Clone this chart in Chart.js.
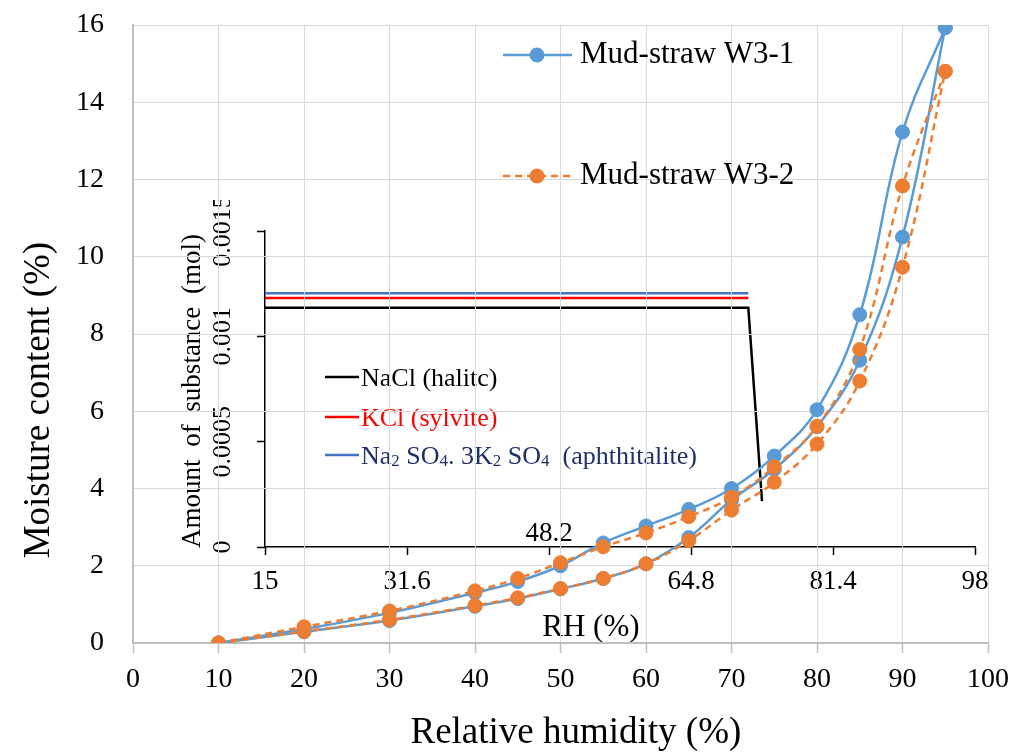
<!DOCTYPE html>
<html><head><meta charset="utf-8">
<script src="https://cdn.jsdelivr.net/npm/chart.js@4.4.1/dist/chart.umd.min.js"></script>
<style>
html,body{margin:0;padding:0;background:#fff;}
#wrap{position:relative;width:1026px;height:753px;overflow:hidden;background:#fff;}
#inset{position:absolute;left:160px;top:200px;z-index:1;}
#main{position:absolute;left:0;top:0;z-index:2;}
</style></head><body>
<div id="wrap">
<canvas id="inset" width="840" height="450"></canvas>
<canvas id="main" width="1026" height="753"></canvas>
</div>
<script>
const FONT = '"Liberation Serif", "Times New Roman", Times, serif';

// ---- main chart data ----
const rhAdsorption = [10, 20, 30, 40, 45, 50, 55, 60, 65, 70, 75, 80, 85, 90, 95];
const rhDesorption = [95, 90, 85, 80, 75, 70, 65, 60, 55, 50, 45, 40, 30, 20, 10];
const w31Adsorption = [0, 0.29, 0.58, 0.95, 1.15, 1.40, 1.67, 2.05, 2.73, 3.70, 4.50, 5.60, 7.32, 10.51, 15.93];
const w31Desorption = [15.93, 13.23, 8.50, 6.04, 4.84, 4.00, 3.46, 3.03, 2.59, 2.00, 1.59, 1.30, 0.78, 0.36, 0];
const w32Adsorption = [0, 0.30, 0.60, 0.97, 1.17, 1.41, 1.67, 2.05, 2.65, 3.44, 4.16, 5.15, 6.78, 9.73, 14.80];
const w32Desorption = [14.80, 11.83, 7.60, 5.61, 4.56, 3.77, 3.27, 2.85, 2.49, 2.08, 1.67, 1.35, 0.83, 0.42, 0];
const seriesNames = ['Mud-straw W3-1', 'Mud-straw W3-2'];
const mainXTicks = [0, 10, 20, 30, 40, 50, 60, 70, 80, 90, 100];
const mainYTicks = [0, 2, 4, 6, 8, 10, 12, 14, 16];

// ---- inset data ----
const saltNames = ['NaCl (halitc)', 'KCl (sylvite)', 'Na2SO4.3K2SO4 (aphthitalite)'];
const naclRH = [15, 71.5, 73.1];
const naclAmount = [0.001136, 0.001136, 0.000218];
const kclRH = [15, 71.5];
const kclAmount = [0.001182, 0.001182];
const aphRH = [15, 71.5];
const aphAmount = [0.001205, 0.001205];
const insetXTicks = [15, 31.6, 48.2, 64.8, 81.4, 98];
const insetYTicks = [0, 0.0005, 0.001, 0.0015];
const insetYTickLabels = ['0', '0.0005', '0.001', '0.0015'];
const insetYTitleWords = ['Amount', 'of', 'substance', '(mol)'];
const aphLegendParts = [['Na', 0], ['2', 1], [' SO', 0], ['4', 1], ['. 3K', 0], ['2', 1], [' SO', 0], ['4', 1], ['  (aphthitalite)', 0]];

const pts = (xs, ys) => xs.map((x, i) => ({x: x, y: ys[i]}));

const BLUE = '#5B9BD5', ORANGE = '#ED7D31';

// ---------------- inset chart ----------------
const insetDecor = {
  id: 'insetDecor',
  afterDraw(chart) {
    const {ctx, chartArea: a, scales: {x, y}} = chart;
    ctx.save();
    ctx.fillStyle = '#000';
    ctx.font = '26px ' + FONT;
    ctx.textAlign = 'center';
    ctx.textBaseline = 'middle';
    insetYTicks.forEach((v, i) => {
      ctx.save();
      ctx.translate(a.left - 42, y.getPixelForValue(v));
      ctx.rotate(-Math.PI / 2);
      ctx.fillText(insetYTickLabels[i], 0, 0);
      ctx.restore();
    });
    // y title spread along the axis height
    ctx.save();
    ctx.font = '27px ' + FONT;
    ctx.translate(a.left - 72, a.bottom + 1);
    ctx.rotate(-Math.PI / 2);
    ctx.textAlign = 'left';
    const total = a.bottom - a.top - 2;
    const widths = insetYTitleWords.map(w => ctx.measureText(w).width);
    const gap = (total - widths.reduce((s, w) => s + w, 0)) / (insetYTitleWords.length - 1);
    let p = 0;
    insetYTitleWords.forEach((w, i) => { ctx.fillText(w, p, 0); p += widths[i] + gap; });
    ctx.restore();

    ctx.font = '27px ' + FONT;
    ctx.fillText(String(insetXTicks[2]), x.getPixelForValue(insetXTicks[2]), a.bottom - 13);
    ctx.font = '31px ' + FONT;
    ctx.fillText('RH (%)', a.left + (a.right - a.left) * 0.459, a.bottom + 81);

    // legend
    const ds = chart.data.datasets;
    const rows = [177, 217, 255];
    const textColors = ['#000000', '#FF0000', '#1F3068'];
    ctx.textAlign = 'left';
    ctx.textBaseline = 'alphabetic';
    rows.forEach((ry, i) => {
      ctx.strokeStyle = ds[i].borderColor;
      ctx.lineWidth = 2.5;
      ctx.beginPath();
      ctx.moveTo(a.left + 60, ry);
      ctx.lineTo(a.left + 94, ry);
      ctx.stroke();
      ctx.fillStyle = textColors[i];
      const base = ry + 9;
      let tx = a.left + 96;
      if (i < 2) {
        ctx.font = '26px ' + FONT;
        ctx.fillText(ds[i].label, tx, base);
      } else {
        aphLegendParts.forEach(([s, sub]) => {
          ctx.font = (sub ? '17px ' : '26px ') + FONT;
          ctx.fillText(s, tx, base + (sub ? 2 : 0));
          tx += ctx.measureText(s).width;
        });
      }
    });
    ctx.restore();
  }
};

new Chart(document.getElementById('inset'), {
  type: 'scatter',
  data: {
    datasets: [
      {label: saltNames[0], data: pts(naclRH, naclAmount), borderColor: '#000000', backgroundColor: '#000000'},
      {label: saltNames[1], data: pts(kclRH, kclAmount), borderColor: '#FF0000', backgroundColor: '#FF0000'},
      {label: saltNames[2], data: pts(aphRH, aphAmount), borderColor: '#4472C4', backgroundColor: '#4472C4'}
    ].map(d => Object.assign(d, {showLine: true, pointRadius: 0, borderWidth: 2.5, tension: 0}))
  },
  options: {
    responsive: false,
    animation: false,
    devicePixelRatio: 1,
    layout: {padding: {top: 31, right: 25, left: 0, bottom: 0}},
    plugins: {legend: {display: false}, tooltip: {enabled: false}},
    scales: {
      x: {
        type: 'linear', min: 15, max: 98,
        afterBuildTicks: s => { s.ticks = insetXTicks.map(v => ({value: v})); },
        afterFit: s => { s.height = 103; },
        grid: {display: true, drawOnChartArea: false, drawTicks: true, tickLength: 8, tickColor: '#000', tickWidth: 1.5},
        border: {display: true, color: '#000', width: 1.5},
        ticks: {
          color: '#000', font: {family: FONT, size: 27}, padding: 11, maxRotation: 0, autoSkip: false,
          callback: v => (v === insetXTicks[2] ? '' : String(v))
        }
      },
      y: {
        type: 'linear', min: 0, max: 0.0015,
        afterBuildTicks: s => { s.ticks = insetYTicks.map(v => ({value: v})); },
        afterFit: s => { s.width = 105; },
        grid: {display: true, drawOnChartArea: false, drawTicks: true, tickLength: 8, tickColor: '#000', tickWidth: 1.5},
        border: {display: true, color: '#000', width: 1.5},
        ticks: {display: false}
      }
    }
  },
  plugins: [insetDecor]
});

// ---------------- main chart ----------------
const mainDecor = {
  id: 'mainDecor',
  afterDraw(chart) {
    const {ctx, chartArea: a} = chart;
    ctx.save();
    ctx.fillStyle = '#000';
    ctx.font = '37px ' + FONT;
    ctx.textAlign = 'center';
    ctx.textBaseline = 'middle';
    ctx.fillText('Relative humidity (%)', a.left + (a.right - a.left) * 0.518, a.bottom + 90);
    ctx.save();
    ctx.translate(39, a.top + (a.bottom - a.top) * 0.607);
    ctx.rotate(-Math.PI / 2);
    ctx.fillText('Moisture content (%)', 0, 0);
    ctx.restore();

    // legend
    const entries = [chart.data.datasets[0], chart.data.datasets[2]];
    const rows = [55, 176];
    entries.forEach((d, i) => {
      const ry = rows[i];
      ctx.strokeStyle = d.borderColor;
      ctx.lineWidth = d.borderWidth;
      ctx.setLineDash(d.borderDash || []);
      ctx.beginPath();
      ctx.moveTo(503, ry);
      ctx.lineTo(572, ry);
      ctx.stroke();
      ctx.setLineDash([]);
      ctx.fillStyle = d.backgroundColor;
      ctx.beginPath();
      ctx.arc(537, ry, d.pointRadius + 0.5, 0, Math.PI * 2);
      ctx.fill();
      ctx.fillStyle = '#000';
      ctx.font = '31px ' + FONT;
      ctx.textAlign = 'left';
      ctx.fillText(d.label, 580, ry);
    });
    ctx.restore();
  }
};

const mk = (label, xs, ys, color, dash, order) => ({
  label: label, data: pts(xs, ys), showLine: true,
  borderColor: color, backgroundColor: color, pointBackgroundColor: color, pointBorderColor: color,
  borderWidth: 2.5, borderDash: dash, pointRadius: 7, pointBorderWidth: 1, tension: 0.4, order: order
});

new Chart(document.getElementById('main'), {
  type: 'scatter',
  data: {
    datasets: [
      mk(seriesNames[0], rhAdsorption, w31Adsorption, BLUE, [], 2),
      mk(seriesNames[0], rhDesorption, w31Desorption, BLUE, [], 2),
      mk(seriesNames[1], rhAdsorption, w32Adsorption, ORANGE, [7, 5], 1),
      mk(seriesNames[1], rhDesorption, w32Desorption, ORANGE, [7, 5], 1)
    ]
  },
  options: {
    responsive: false,
    animation: false,
    devicePixelRatio: 1,
    layout: {padding: {top: 25, right: 38, left: 0, bottom: 0}},
    plugins: {legend: {display: false}, tooltip: {enabled: false}},
    scales: {
      x: {
        type: 'linear', min: 0, max: 100,
        afterBuildTicks: s => { s.ticks = mainXTicks.map(v => ({value: v})); },
        afterFit: s => { s.height = 110; },
        grid: {color: '#D9D9D9', lineWidth: 1, drawTicks: true, tickLength: 10, tickColor: '#BFBFBF', tickWidth: 1.5},
        border: {display: true, color: '#BFBFBF', width: 2},
        ticks: {color: '#000', font: {family: FONT, size: 28}, padding: 10, maxRotation: 0, autoSkip: false}
      },
      y: {
        type: 'linear', min: 0, max: 16,
        afterBuildTicks: s => { s.ticks = mainYTicks.map(v => ({value: v})); },
        afterFit: s => { s.width = 133; },
        grid: {color: '#D9D9D9', lineWidth: 1, drawTicks: true, tickLength: 25, tickColor: 'rgba(0,0,0,0)'},
        border: {display: true, color: '#BFBFBF', width: 2},
        ticks: {color: '#000', font: {family: FONT, size: 28}, padding: 4}
      }
    }
  },
  plugins: [mainDecor]
});
</script>
</body></html>
